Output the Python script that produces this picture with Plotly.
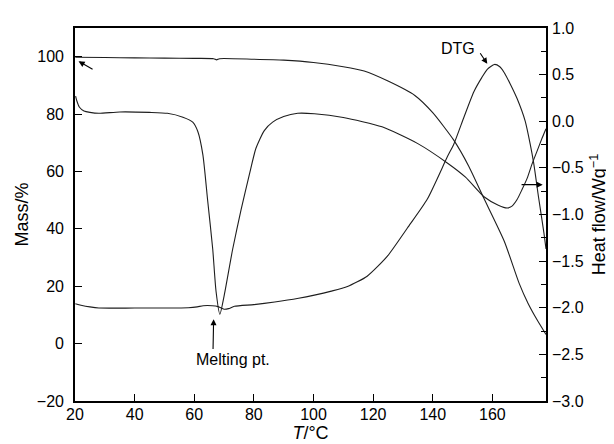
import plotly.graph_objects as go

# ---- data ----
tg_T = [20.1, 30, 40, 50, 60, 66.5, 67.5, 68.5, 80, 90, 100, 110, 117, 125, 134, 140, 147, 152, 157, 164, 169, 172, 175, 178]
tg_mass = [99.8, 99.7, 99.6, 99.5, 99.4, 99.3, 98.9, 99.3, 99.1, 98.8, 98.0, 96.5, 95.0, 91.5, 86.5, 80.5, 71.0, 62.0, 51.0, 35.7, 21.0, 14.0, 8.3, 3.2]

dsc_T = [20.2, 20.6, 21.5, 23, 25, 28, 35, 45, 51, 56.2, 59.5, 61.2, 62.9, 64.5, 66.2, 67.3, 68.6, 70.1, 72.9,
         75.7, 78.5, 80.7, 83.5, 86.3, 90, 94.7, 100.3, 110, 123, 135, 145, 151, 157.2, 162, 165, 166.6, 168.3,
         170, 171.7, 173.3, 175, 176.7, 178]
dsc_hf = [0.27, 0.22, 0.15, 0.11, 0.095, 0.085, 0.10, 0.095, 0.085, 0.043, -0.01, -0.11, -0.36, -0.85, -1.37, -1.82, -2.07, -1.86, -1.37,
          -0.95, -0.57, -0.29, -0.10, -0.01, 0.05, 0.085, 0.08, 0.04, -0.06, -0.24, -0.45, -0.60, -0.81, -0.90, -0.93, -0.91, -0.84,
          -0.73, -0.61, -0.46, -0.32, -0.18, -0.08]

dtg_T = [20.1, 22, 25, 28, 40, 50, 58, 61, 63, 66, 68, 70, 71.5, 73.5, 80, 87, 95, 100.3, 106, 111.4, 118, 124.8, 131.5,
         138.2, 144.9, 147.1, 150.5, 153.8, 156.5, 158.3, 160.7, 162.5, 163.9, 166, 168.3, 171, 172.7, 173.9, 175.5, 177.3, 178]
dtg_val = [13.9, 13.4, 12.8, 12.4, 12.4, 12.4, 12.5, 12.8, 13.2, 13.2, 12.9, 12.0, 12.2, 13.0, 13.6, 14.5, 15.8, 16.9, 18.3, 19.9, 23.5, 30.5, 40.3,
           50.4, 65.1, 69.6, 79.0, 87.8, 92.8, 95.6, 97.3, 96.5, 94.6, 90.5, 85.4, 77.6, 69.5, 62.7, 51.0, 38.6, 33.0]

x_ticks = [20, 40, 60, 80, 100, 120, 140, 160]
mass_ticks = [-20, 0, 20, 40, 60, 80, 100]
hf_ticks = [-3.0, -2.5, -2.0, -1.5, -1.0, -0.5, 0.0, 0.5, 1.0]

FONT = "Liberation Sans, Arial, Helvetica, sans-serif"
LC = "#1e1e1e"

fig = go.Figure()
fig.add_trace(go.Scatter(x=tg_T, y=tg_mass, mode="lines", line=dict(color=LC, width=1.1, shape="spline", smoothing=0.6), showlegend=False))
fig.add_trace(go.Scatter(x=dtg_T, y=dtg_val, mode="lines", line=dict(color=LC, width=1.1, shape="spline", smoothing=0.6), showlegend=False))
fig.add_trace(go.Scatter(x=dsc_T, y=dsc_hf, mode="lines", yaxis="y2", line=dict(color=LC, width=1.1, shape="spline", smoothing=0.6), showlegend=False))

axis_common = dict(showline=True, linecolor="black", linewidth=1.6, ticks="inside", tickcolor="black",
                   tickwidth=1.4, ticklen=7, showgrid=False, zeroline=False,
                   tickfont=dict(family=FONT, size=16, color="black"))

fig.update_layout(
    width=614, height=444,
    margin=dict(l=67, r=76, t=18, b=43),
    paper_bgcolor="white", plot_bgcolor="white",
    font=dict(family=FONT, color="black"),
    xaxis=dict(range=[20, 178], tickvals=x_ticks, mirror=True, ticklabelstandoff=-2,
               title=dict(text="<i>T</i>/°C", font=dict(family=FONT, size=18), standoff=4),
               **axis_common),
    yaxis=dict(range=[-20, 110], tickvals=mass_ticks, ticklabelstandoff=6,
               title=dict(text="Mass/%", font=dict(family=FONT, size=18), standoff=4),
               **axis_common),
    yaxis2=dict(range=[-3, 1], tickvals=hf_ticks, tickformat=".1f", overlaying="y", side="right",
                ticklabelstandoff=1,
                minor=dict(ticks="inside", dtick=0.25, tick0=0, ticklen=5, tickwidth=1.2, tickcolor="black"),
                title=dict(text="Heat flow/Wg<sup>−1</sup>", font=dict(family=FONT, size=18), standoff=10),
                **axis_common),
)

arrow = dict(showarrow=True, arrowhead=2, arrowsize=1.1, arrowwidth=1.1, arrowcolor="black",
             axref="x", ayref="y", xref="x", yref="y", text="")
# TG arrow
fig.add_annotation(x=21.2, y=98.4, ax=26.4, ay=95.3, **arrow)
# Melting point
fig.add_annotation(x=66.5, y=8.5, ax=66.3, ay=-2.4, **arrow)
fig.add_annotation(x=72.9, y=-5.6, text="Melting pt.", showarrow=False, xref="x", yref="y",
                   font=dict(family=FONT, size=16, color="black"))
# DTG
fig.add_annotation(x=158.3, y=97.5, ax=155.6, ay=101.7, **arrow)
fig.add_annotation(x=148.6, y=103.0, text="DTG", showarrow=False, xref="x", yref="y",
                   font=dict(family=FONT, size=16, color="black"))
# DSC arrow to right axis
fig.add_annotation(x=176.9, y=55.4, ax=169.3, ay=55.4, **arrow)

fig.write_html("out.html")
